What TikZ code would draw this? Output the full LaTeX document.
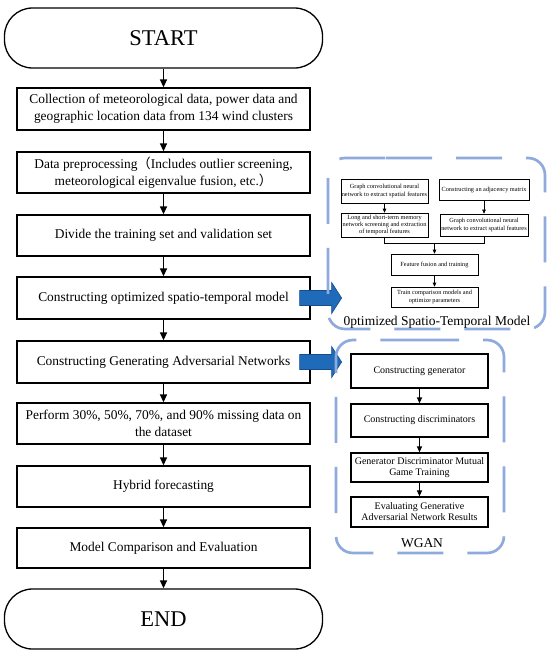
\documentclass[tikz,border=0pt]{standalone}
\usepackage{fontspec}
\setmainfont{Liberation Serif}
\newfontfamily\cjk{Noto Sans CJK SC}
\usetikzlibrary{arrows.meta,calc}
\definecolor{contblue}{RGB}{143,170,220}
\definecolor{arrowblue}{RGB}{31,106,185}
\definecolor{arrowedge}{RGB}{22,78,140}
\begin{document}
\begin{tikzpicture}[x=1pt,y=-1pt,
  mainbox/.style={draw, line width=1.3pt, minimum width=293pt, minimum height=41pt, inner sep=2pt, align=center, font=\fontsize{13.4}{17}\selectfont},
  term/.style={draw, line width=1.3pt, minimum width=318pt, minimum height=60pt, rounded corners=28pt, font=\fontsize{22.5}{26}\selectfont},
  flow/.style={line width=1.3pt, -{Triangle[length=8pt,width=7pt]}},
  smallbox/.style={draw, line width=0.6pt, inner sep=1pt, align=center, font=\fontsize{6.3}{7.2}\selectfont},
  smallflow/.style={line width=0.6pt, -{Triangle[length=4pt,width=3.5pt]}},
  midbox/.style={draw, line width=1.2pt, minimum width=137pt, inner sep=1pt, align=center, font=\fontsize{10}{11}\selectfont},
  midflow/.style={line width=1.2pt, -{Triangle[length=6pt,width=5pt]}},
  container/.style={draw=contblue, line width=2.7pt, rounded corners=17pt, dash pattern=on 46pt off 24pt},
  blockarrow/.style={fill=arrowblue, draw=arrowedge, line width=0.6pt},
  caption/.style={anchor=base, font=\fontsize{13.5}{15}\selectfont}
]
\useasboundingbox (0,0) rectangle (550,656);

% main column
\node[term] (start) at (163.5,38) {START};
\node[mainbox, minimum height=42pt] (b1) at (163.5,109) {Collection of meteorological data, power data and\\geographic location data from 134 wind clusters};
\node[mainbox] (b2) at (163.5,172.5) {Data preprocessing{\cjk （}Includes outlier screening,\\meteorological eigenvalue fusion, etc.{\cjk ）}};
\node[mainbox] (b3) at (163.5,235.5) {Divide the training set and validation set};
\node[mainbox, minimum height=42pt] (b4) at (163.5,298) {Constructing optimized spatio-temporal model};
\node[mainbox, minimum height=42pt] (b5) at (163.5,362) {Constructing Generating Adversarial Networks};
\node[mainbox] (b6) at (163.5,423.5) {Perform 30\%, 50\%, 70\%, and 90\% missing data on\\the dataset};
\node[mainbox] (b7) at (163.5,486.5) {Hybrid forecasting};
\node[mainbox, minimum height=40pt] (b8) at (163.5,548) {Model Comparison and Evaluation};
\node[term] (end) at (163.5,619) {END};

\draw[flow] (start) -- (b1);
\draw[flow] (b1) -- (b2);
\draw[flow] (b2) -- (b3);
\draw[flow] (b3) -- (b4);
\draw[flow] (b4) -- (b5);
\draw[flow] (b5) -- (b6);
\draw[flow] (b6) -- (b7);
\draw[flow] (b7) -- (b8);
\draw[flow] (b8) -- (end);

% block arrows
\path[blockarrow] ($(b4.east)+(-11,-7.5)$) -- ++(32,0) -- ++(0,-8) -- ++(10,15.5) -- ++(-10,15.5) -- ++(0,-8) -- ++(-32,0) -- cycle;
\path[blockarrow] ($(b5.east)+(-11,-7.5)$) -- ++(32,0) -- ++(0,-8) -- ++(10,15.5) -- ++(-10,15.5) -- ++(0,-8) -- ++(-32,0) -- cycle;

% upper container
\draw[container] (369,158) -- (545,158) -- (545,329) -- (328,329) -- (328,158) -- cycle;
\node[smallbox, minimum width=87pt, minimum height=24pt] (a1) at (384.5,191) {Graph convolutional neural\\network to extract spatial features};
\node[smallbox, minimum width=90pt, minimum height=21pt] (c1) at (484,189.5) {Constructing an adjacency matrix};
\node[smallbox, minimum width=87pt, minimum height=24pt] (a2) at (384.5,225) {Long and short-term memory\\network screening and extraction\\of temporal features};
\node[smallbox, minimum width=88pt, minimum height=22pt] (c2) at (484,225) {Graph convolutional neural\\network to extract spatial features};
\node[smallbox, minimum width=87pt, minimum height=21pt] (fu) at (434.5,264.5) {Feature fusion and training};
\node[smallbox, minimum width=87pt, minimum height=20pt] (tr) at (434.5,297) {Train comparison models and\\optimize parameters};
\coordinate (mj) at (434.5,243);
\draw[smallflow] (a1) -- (a2);
\draw[smallflow] (c1) -- (c2);
\draw[line width=0.6pt] (a2.south) -- (a2.south |- mj) -- (c2.south |- mj) -- (c2.south);
\draw[smallflow] (mj) -- (fu);
\draw[smallflow] (fu) -- (tr);
\node[caption] (lab1) at (437,325) {0ptimized Spatio-Temporal Model};

% lower container
\draw[container] (396,340) -- (504,340) -- (504,553) -- (336,553) -- (336,340) -- cycle;
\node[midbox, minimum height=34pt] (g1) at (419.5,371) {Constructing generator};
\node[midbox, minimum height=33pt] (g2) at (419.5,420.5) {Constructing discriminators};
\node[midbox, minimum height=29pt] (g3) at (419.5,467.5) {Generator Discriminator Mutual\\Game Training};
\node[midbox, minimum height=30pt] (g4) at (419.5,512) {Evaluating Generative\\Adversarial Network Results};
\draw[midflow] (g1) -- (g2);
\draw[midflow] (g2) -- (g3);
\draw[midflow] (g3) -- (g4);
\node[caption] (lab2) at (422,547) {WGAN};
\end{tikzpicture}
\end{document}
